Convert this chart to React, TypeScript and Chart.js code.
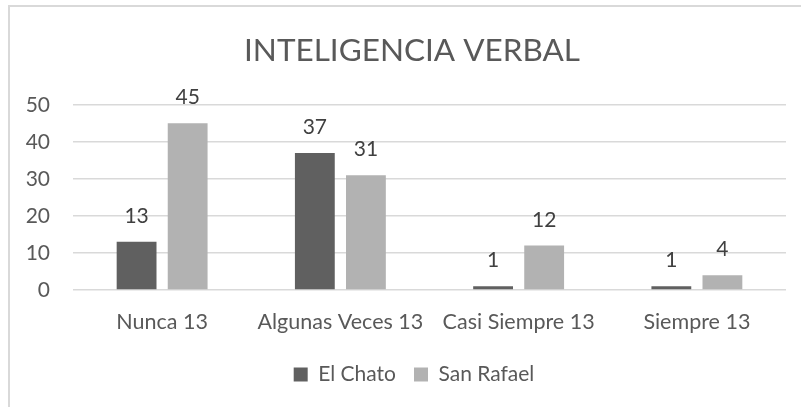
import React, { useEffect, useRef } from "react";
import { Chart, registerables } from "chart.js";

Chart.register(...registerables);

const TITLE = "INTELIGENCIA VERBAL";
const CATEGORIES = ["Nunca 13", "Algunas Veces 13", "Casi Siempre 13", "Siempre 13"];
const EL_CHATO = [13, 37, 1, 1];
const SAN_RAFAEL = [45, 31, 12, 4];
const SERIES_NAMES = ["El Chato", "San Rafael"];
const Y_MIN = 0;
const Y_MAX = 50;
const Y_STEP = 10;

const FONT = "Lato, 'Noto Sans', sans-serif";

const dataLabels = {
  id: "dataLabels",
  afterDatasetsDraw(chart: any) {
    const ctx = chart.ctx;
    ctx.save();
    ctx.font = `21px ${FONT}`;
    ctx.fillStyle = "#404040";
    ctx.textAlign = "center";
    ctx.textBaseline = "alphabetic";
    chart.data.datasets.forEach((ds: any, i: number) => {
      const meta = chart.getDatasetMeta(i);
      meta.data.forEach((bar: any, j: number) => {
        ctx.fillText(String(ds.data[j]), bar.x, bar.y - 19);
      });
    });
    ctx.restore();
  },
};

// center title and legend on the whole chart box (as in the original),
// not on the area left after the right-hand padding
const recenter = {
  id: "recenter",
  afterLayout(chart: any) {
    if (chart.titleBlock) {
      chart.titleBlock.left += 15;
      chart.titleBlock.right += 15;
    }
    if (chart.legend) {
      chart.legend.left += 17;
      chart.legend.right += 17;
    }
  },
};

export default function App() {
  const ref = useRef<HTMLCanvasElement | null>(null);

  useEffect(() => {
    if (!ref.current) return;
    const chart = new Chart(ref.current, {
      type: "bar",
      data: {
        labels: CATEGORIES,
        datasets: [
          {
            label: SERIES_NAMES[0],
            data: EL_CHATO,
            backgroundColor: "#606060",
            barPercentage: 0.78,
            categoryPercentage: 0.573,
          },
          {
            label: SERIES_NAMES[1],
            data: SAN_RAFAEL,
            backgroundColor: "#b2b2b2",
            barPercentage: 0.78,
            categoryPercentage: 0.573,
          },
        ],
      },
      options: {
        animation: false,
        responsive: false,
        maintainAspectRatio: false,
        layout: { padding: { left: 0, right: 30, top: 0, bottom: 12 } },
        plugins: {
          title: {
            display: true,
            text: TITLE,
            color: "#595959",
            font: { family: FONT, size: 31.5, weight: "normal" },
            padding: { top: 26, bottom: 35 },
          },
          legend: {
            display: true,
            position: "bottom",
            labels: {
              color: "#595959",
              font: { family: FONT, size: 21 },
              boxWidth: 14,
              boxHeight: 14,
              padding: 18,
            },
          },
          tooltip: { enabled: false },
        },
        scales: {
          x: {
            grid: { display: false },
            border: { display: false },
            ticks: {
              color: "#595959",
              font: { family: FONT, size: 21.5 },
              padding: 11,
              maxRotation: 0,
              autoSkip: false,
            },
            afterFit(scale: any) {
              scale.height = 56;
            },
          },
          y: {
            min: Y_MIN,
            max: Y_MAX,
            grid: { color: "#d9d9d9", lineWidth: 1.5, drawTicks: false },
            border: { display: false },
            ticks: {
              stepSize: Y_STEP,
              color: "#595959",
              font: { family: FONT, size: 21 },
              padding: 23,
            },
            afterFit(scale: any) {
              scale.width = 65;
            },
          },
        },
      },
      plugins: [dataLabels, recenter],
    });
    return () => chart.destroy();
  }, []);

  return (
    <div
      style={{
        position: "fixed",
        left: 0,
        top: 0,
        width: 801,
        height: 407,
        overflow: "hidden",
        background: "#fff",
      }}
    >
      <div
        style={{
          position: "absolute",
          left: 8,
          top: 5,
          width: 900,
          height: 500,
          border: "2px solid #d9d9d9",
          boxSizing: "border-box",
        }}
      />
      <canvas
        ref={ref}
        width={808}
        height={401}
        style={{ position: "absolute", left: 8, top: 6, width: 808, height: 401 }}
      />
    </div>
  );
}
